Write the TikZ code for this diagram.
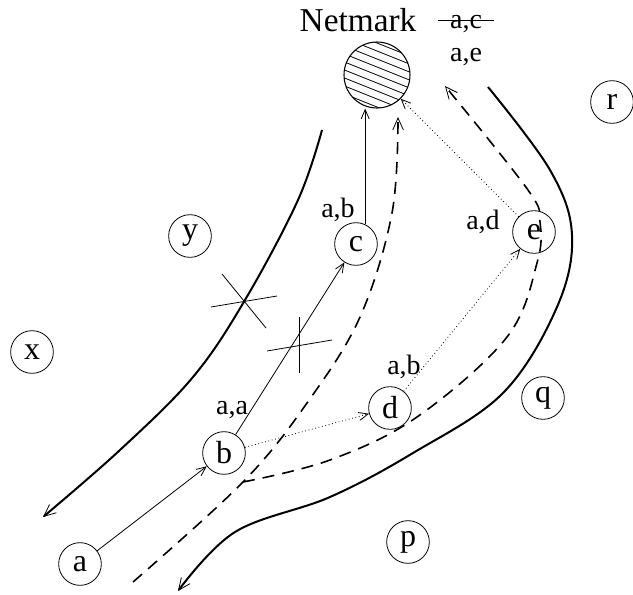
\documentclass[tikz,border=0pt]{standalone}
\usepackage{fontspec}
\setmainfont{Liberation Serif}
\usetikzlibrary{arrows.meta}

\begin{document}
\begin{tikzpicture}[
    x=0.75pt, y=-0.75pt,
    vtx/.style={draw, circle, minimum size=32pt, inner sep=0pt, line width=0.6pt, font=\fontsize{24}{24}\selectfont},
    lbl/.style={inner sep=0pt, font=\fontsize{21}{21}\selectfont},
    arr/.style={-{Straight Barb[length=7pt,width=6pt]}, line width=0.6pt},
    dotarr/.style={arr, dotted},
    wall/.style={line width=1.5pt, -{Straight Barb[length=9pt,width=8pt,line width=0.6pt]}},
    route/.style={line width=1.2pt, dash pattern=on 9pt off 6pt, -{Straight Barb[length=9pt,width=8pt,line width=0.6pt]}},
    cut/.style={line width=0.6pt},
    >=Stealth
]
\useasboundingbox (0,0) rectangle (633,594);

% netmark
\node[font=\fontsize{25}{25}\selectfont, inner sep=0pt] (net-lbl) at (358,20) {Netmark};
\node[draw, circle, minimum size=49.5pt, inner sep=0pt, line width=0.8pt] (net) at (377,75) {};
\begin{scope}
    \clip (377,75) circle[radius=24.75pt];
    \foreach \k in {-64,-56,...,64}
        \draw[line width=0.6pt] (337,\k+59) -- ++(80,32);
\end{scope}
\node[lbl] (lbl-ac) at (466,24) {a,c};
\draw[line width=0.6pt] ([xshift=-9pt,yshift=3pt]lbl-ac.west) -- ([xshift=9pt,yshift=3pt]lbl-ac.east);
\node[lbl] (lbl-ae) at (466,57) {a,e};

% hosts
\node[vtx] (a) at (80,564) {a};
\node[vtx] (b) at (224,453) {b};
\node[vtx] (c) at (356,244) {c};
\node[vtx] (d) at (390,408) {d};
\node[vtx] (e) at (534,232) {e};
\node[vtx] (x) at (32,352) {x};
\node[vtx] (y) at (190,236) {y};
\node[vtx] (p) at (408,542) {p};
\node[vtx] (q) at (543,398) {q};
\node[vtx] (r) at (612,102) {r};

\node[lbl] (lbl-b) at (232,410) {a,a};
\node[lbl] (lbl-c) at (338,210) {a,b};
\node[lbl] (lbl-d) at (404,367) {a,b};
\node[lbl] (lbl-e) at (483,222) {a,d};

% forwarding
\draw[arr] (a) -- (b);
\draw[arr] (b) -- (c);
\draw[arr] (c.65) -- (c.65 |- net.south);
\foreach \u/\v in {b/d, d/e, e/net}
    \draw[dotarr] (\u) -- (\v);

% borders
\draw[wall] plot[smooth, tension=0.6] coordinates {(322,130) (298,200) (245,300) (193,377) (120,450) (43,517)};
\draw[wall] plot[smooth, tension=0.6] coordinates {(488,87) (550,170) (572,235) (557,307) (503,393) (413,453) (330,497) (235,532) (178,591)};

% routes
\draw[route] plot[smooth, tension=0.6] coordinates {(133,582) (243,482) (307,403) (360,317) (392,213) (398,117)};
\draw[route] plot[smooth, tension=0.6] coordinates {(243,482) (330,460) (417,417) (507,337) (537,263) (540,222) (528,190) (445,86)};

% cuts
\draw[cut] (222,274) -- (266,328);
\draw[cut] (211,307) -- (277,296);
\draw[cut] (299,317) -- (299,373);
\draw[cut] (267,351) -- (332,340);
\end{tikzpicture}
\end{document}
